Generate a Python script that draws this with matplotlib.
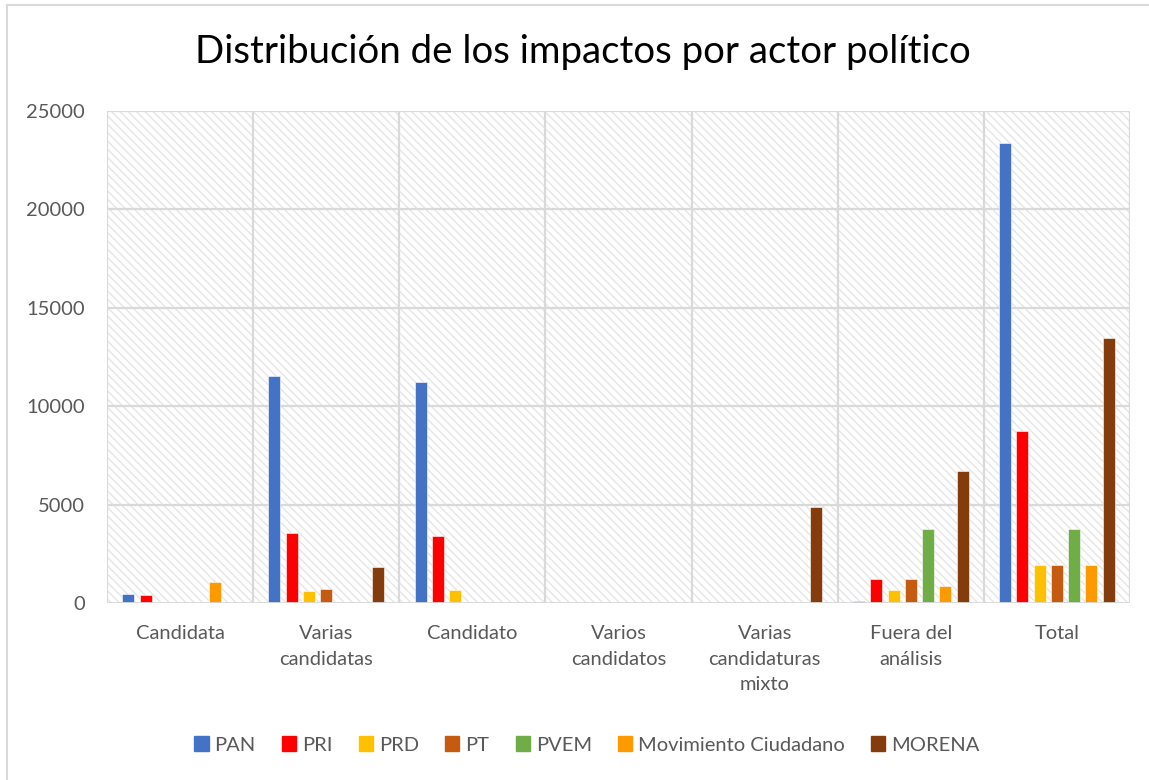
import matplotlib.pyplot as plt
import matplotlib.lines as mlines
import matplotlib.patches as mpatches
import numpy as np

plt.rcParams['font.family'] = ['Lato', 'DejaVu Sans']
plt.rcParams['hatch.color'] = '#d0d0d0'
plt.rcParams['hatch.linewidth'] = 1.0

categories = ["Candidata", "Varias\ncandidatas", "Candidato", "Varios\ncandidatos",
              "Varias\ncandidaturas\nmixto", "Fuera del\nanálisis", "Total"]
parties = ["PAN", "PRI", "PRD", "PT", "PVEM", "Movimiento Ciudadano", "MORENA"]
colors = ["#4472c4", "#ff0000", "#ffc000", "#c55a11", "#70ad47", "#ff9900", "#843c0c"]

pan = [450, 11530, 11230, 0, 0, 110, 23390]
pri = [420, 3560, 3400, 0, 0, 1220, 8720]
prd = [0, 630, 650, 0, 0, 650, 1950]
pt = [0, 720, 0, 0, 0, 1200, 1950]
pvem = [0, 0, 0, 0, 0, 3760, 3760]
mc = [1070, 0, 0, 0, 0, 850, 1950]
morena = [0, 1810, 0, 0, 4880, 6730, 13460]
series = [pan, pri, prd, pt, pvem, mc, morena]

fig = plt.figure(figsize=(11.49, 7.8), dpi=100)
ax = fig.add_axes([107 / 1149, 1 - 603 / 780, (1130 - 107) / 1149, (603 - 111) / 780])

# hatched plot area
ax.add_patch(mpatches.Rectangle((0, 0), 1, 1, transform=ax.transAxes, facecolor='white',
                                edgecolor='#e6e6e6', hatch='\\\\\\\\', linewidth=0, zorder=0))

x = np.arange(len(categories))
pitch = 0.118
width = 0.082
for i, (name, vals, c) in enumerate(zip(parties, series, colors)):
    ax.bar(x + (i - 3) * pitch, vals, width, color=c, label=name, zorder=3,
           edgecolor='white', linewidth=0.4)

ax.set_xlim(-0.5, 6.5)
ax.set_ylim(0, 25000)
ax.set_yticks(range(0, 25001, 5000))
for yv in range(5000, 25001, 5000):
    ax.axhline(yv, color='#d9d9d9', linewidth=1.6, zorder=1)
for xv in np.arange(-0.5, 7, 1):
    ax.axvline(xv, color='#d9d9d9', linewidth=1.6, zorder=1)
ax.axhline(0, color='#d9d9d9', linewidth=2, zorder=4)

for s in ax.spines.values():
    s.set_visible(False)
ax.set_xticks(x)
ax.set_xticklabels(categories, fontsize=14.5, color='#595959', linespacing=1.6, va='top')
ax.tick_params(axis='x', length=0, pad=16)
ax.tick_params(axis='y', length=0, pad=16, labelsize=14.5, labelcolor='#595959')

fig.text(583 / 1149, 1 - 52 / 780, "Distribución de los impactos por actor político",
         ha='center', va='center', fontsize=27.6, color='black')

handles = [mpatches.Patch(color=c, label=n) for n, c in zip(parties, colors)]
fig.legend(handles=handles, loc='center', bbox_to_anchor=(587 / 1149, 1 - 745 / 780),
           ncol=7, frameon=False, fontsize=14.5, handlelength=0.7, handleheight=0.7,
           handletextpad=0.3, columnspacing=1.3, labelcolor='#595959')

# chart border (left and top)
fig.add_artist(mlines.Line2D([7 / 1149, 7 / 1149], [0, 1 - 5 / 780], color='#d9d9d9',
                             linewidth=1.5, transform=fig.transFigure))
fig.add_artist(mlines.Line2D([7 / 1149, 1], [1 - 5 / 780, 1 - 5 / 780], color='#d9d9d9',
                             linewidth=1.5, transform=fig.transFigure))

fig.savefig("out.png", dpi=100)
